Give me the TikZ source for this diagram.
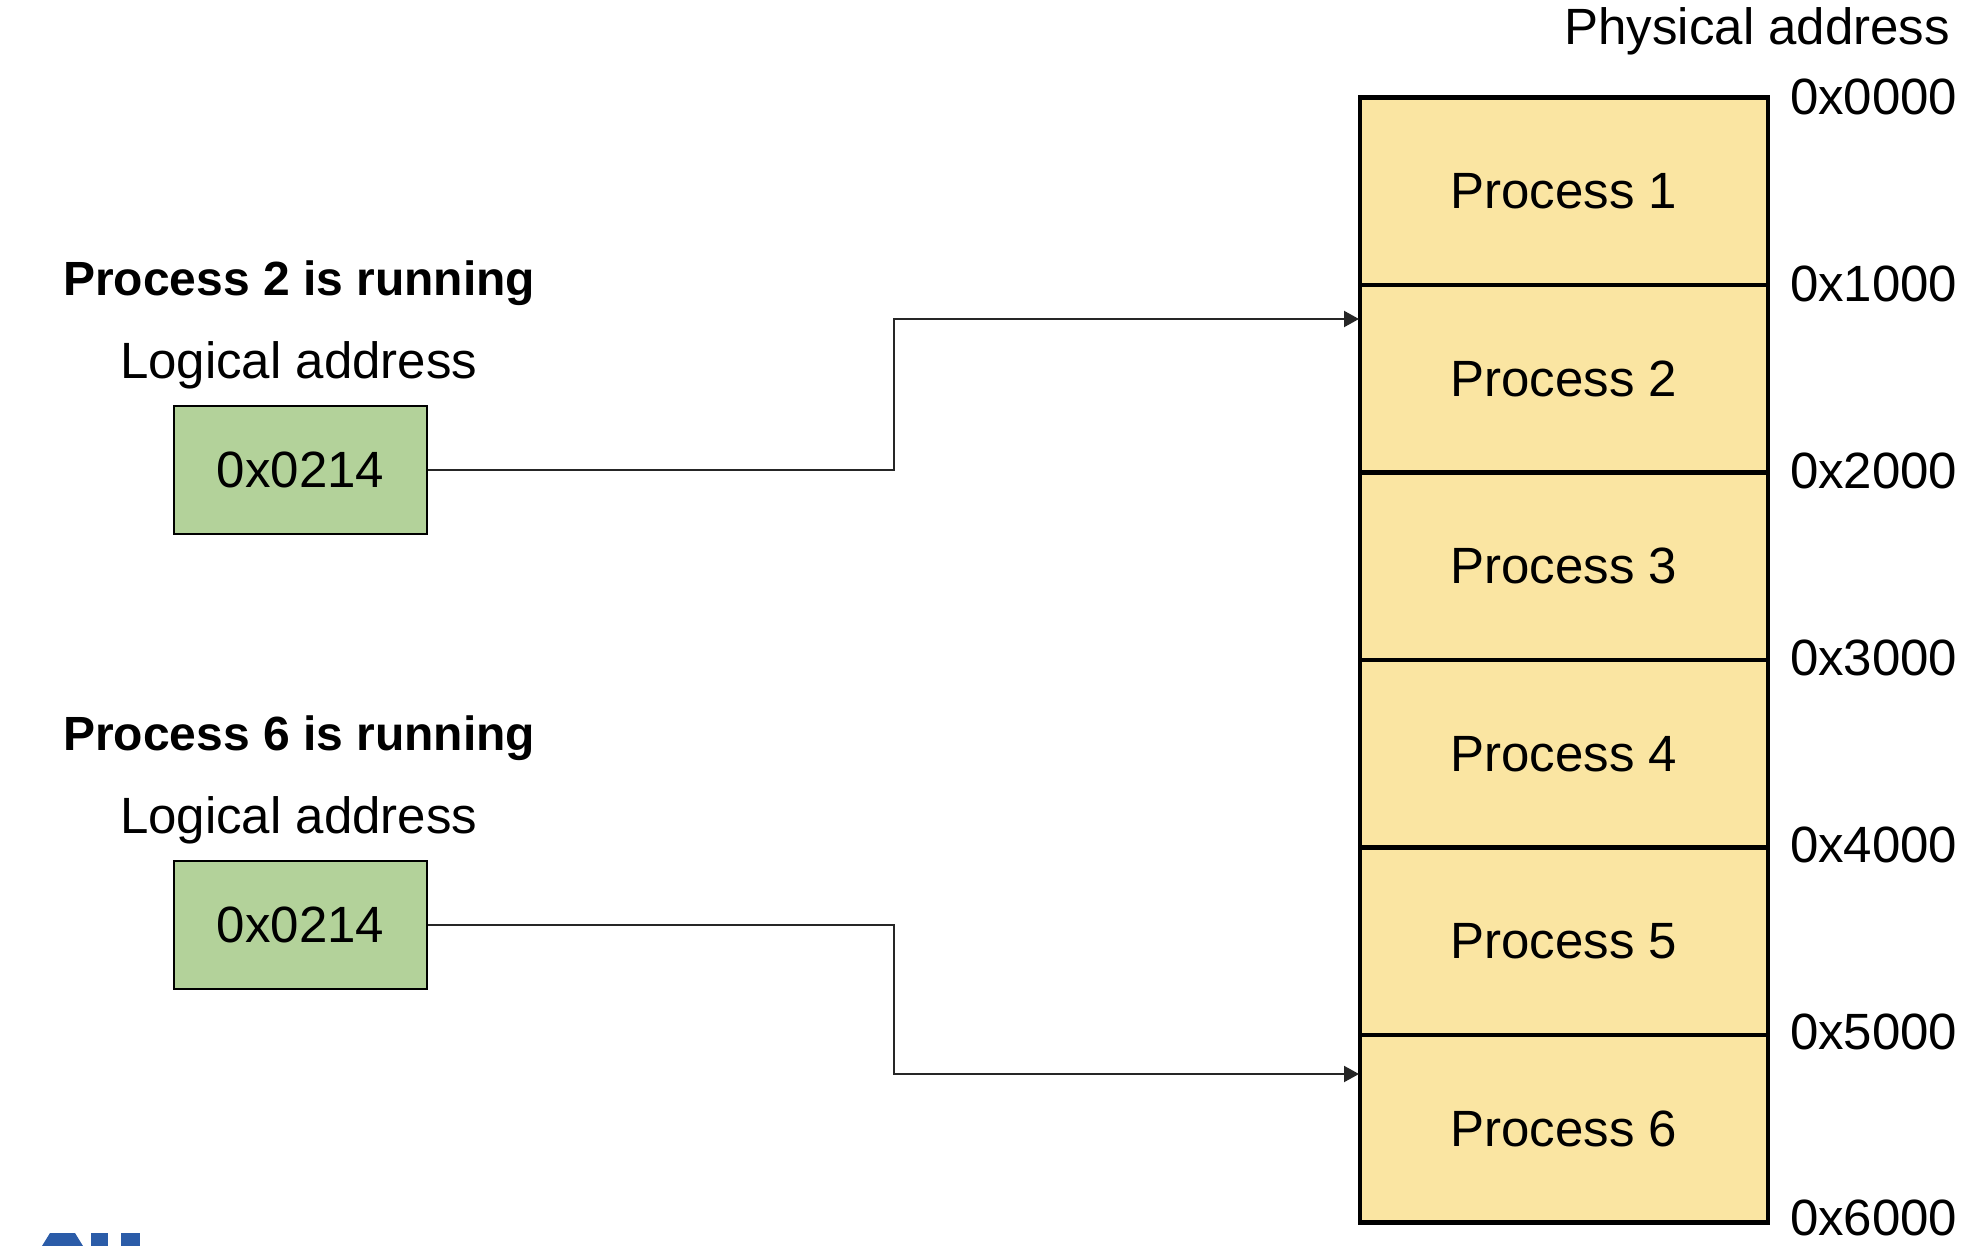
\documentclass[tikz,border=0pt]{standalone}
\usepackage{fontspec}
\setmainfont{Liberation Sans}
\usetikzlibrary{arrows.meta}
\definecolor{memfill}{HTML}{FAE5A2}
\definecolor{logfill}{HTML}{B3D29A}
\definecolor{logoblue}{HTML}{2B5CA8}
\tikzset{
  txt/.style={inner sep=0pt, outer sep=0pt, font=\fontsize{25.5}{30}\selectfont},
  boldtxt/.style={inner sep=0pt, outer sep=0pt, font=\fontsize{24}{29}\selectfont\bfseries},
  memblock/.style={draw=black, line width=2.4pt, fill=memfill, minimum width=204pt, minimum height=93.75pt, inner sep=0pt, outer sep=0pt},
  logbox/.style={draw=black, line width=1pt, fill=logfill, minimum width=126.5pt, minimum height=64pt, inner sep=0pt, font=\fontsize{25.5}{30}\selectfont},
  conn/.style={line width=1pt, draw=black!85},
  arr/.style={conn, -{Triangle[length=7.5pt,width=8pt]}}
}
\begin{document}
\begin{tikzpicture}[x=0.5pt,y=-0.5pt]
\useasboundingbox (0,0) rectangle (1986,1246);

% memory column
\foreach \i in {1,...,6}{
  \node[memblock] (p\i) at (1564,{97.5+187.5*(\i-0.5)}) {};
  \node[txt, anchor=base] (pl\i) at (1564,{97.5+187.5*(\i-0.5)+17.5}) {Process \i};
}
% address labels
\foreach \i in {0,...,6}{
  \node[txt, anchor=base west] (ad\i) at (1790,{115+186.8*\i}) {0x\i000};
}
\node[txt, anchor=base east] (phys) at (1950,45) {Physical address};

% group 1
\node[boldtxt, anchor=base west] (h1) at (63,295) {Process 2 is running};
\node[txt, anchor=base west] (la1) at (120,378) {Logical address};
\node[logbox] (g1) at (300.5,469.5) {0x0214};

% group 2
\node[boldtxt, anchor=base west] (h2) at (63,750) {Process 6 is running};
\node[txt, anchor=base west] (la2) at (120,833) {Logical address};
\node[logbox] (g2) at (300.5,924.5) {0x0214};

% connectors
\coordinate (t1) at (1359,319);
\coordinate (t2) at (1359,1074);
\coordinate (k1) at (894,469.5);
\coordinate (k2) at (894,924.5);
\draw[arr] (g1.east) -- (k1) |- (t1);
\draw[arr] (g2.east) -- (k2) |- (t2);

% cut-off logo fragment
\fill[logoblue] (42,1246) -- (50,1233) -- (75,1233) -- (83,1246) -- cycle;
\fill[logoblue] (91,1233) rectangle (108,1246);
\fill[logoblue] (121,1233) rectangle (140,1246);
\end{tikzpicture}
\end{document}
